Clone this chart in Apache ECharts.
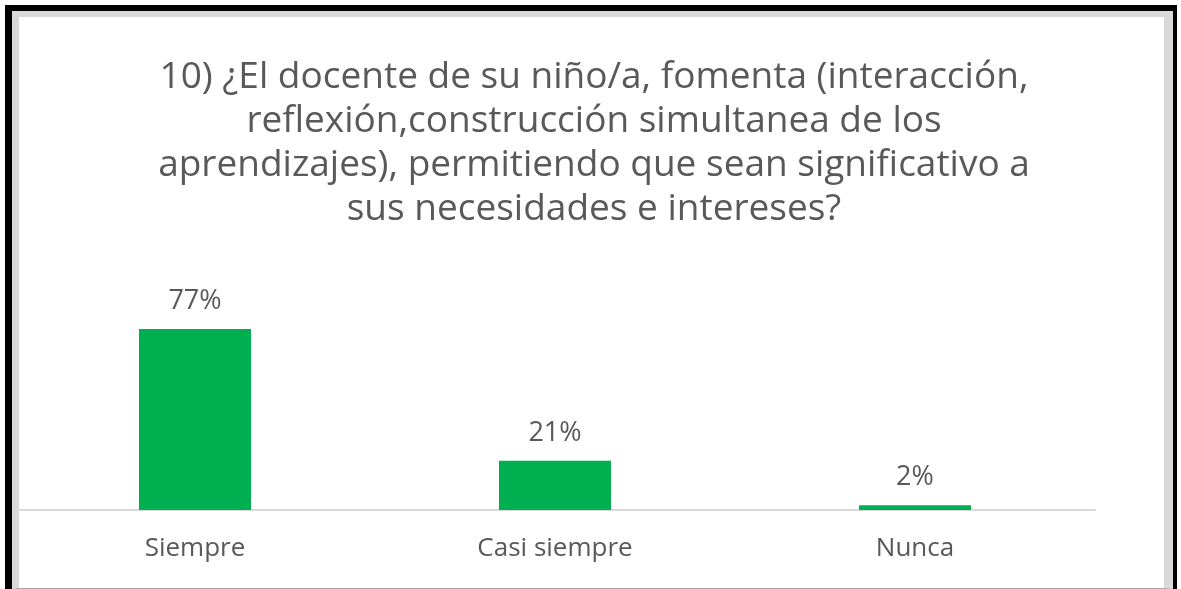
<!DOCTYPE html>
<html>
<head>
<meta charset="utf-8">
<script src="https://cdn.jsdelivr.net/npm/echarts@6/dist/echarts.min.js"></script>
<style>
  html, body { margin: 0; padding: 0; background: #fff; }
  #frame {
    position: absolute; left: 5px; top: 5px; width: 1172px; height: 584px;
    box-sizing: border-box; border: solid #000; border-width: 6px 4px 0 7px;
  }
  #inner {
    position: absolute; left: 0; top: 0; right: 0; bottom: 0;
    box-sizing: border-box; border: solid #d9d9d9; border-width: 6px 9px 1px 7px;
    border-bottom-color: #a6a6a6;
  }
  #chart { position: absolute; left: 0; top: 0; width: 1181px; height: 589px; }
</style>
</head>
<body>
<div id="frame"><div id="inner"></div></div>
<div id="chart"></div>
<script>
// survey answers, % of parents
const categories = ['Siempre', 'Casi siempre', 'Nunca'];
const percents = [77, 21, 2];
const titleLines = [
    '10) ¿El docente de su niño/a, fomenta (interacción,',
    'reflexión,construcción simultanea de los',
    'aprendizajes), permitiendo que sean significativo a',
    'sus necesidades e intereses?'
];

const textColor = '#595959';
const font = 'Open Sans';

let ec = echarts.init(document.getElementById('chart'), null, { renderer: 'canvas' });

let option = {
    animation: false,
    backgroundColor: 'transparent',
    title: {
        text: titleLines.join('\n'),
        left: 589,
        textAlign: 'center',
        top: 50,
        textStyle: {
            color: textColor,
            fontFamily: font,
            fontWeight: 'normal',
            fontSize: 37,
            lineHeight: 44
        }
    },
    grid: { left: 15, right: 86, top: 275, bottom: 79 },
    xAxis: {
        type: 'category',
        data: categories,
        axisLine: { lineStyle: { color: '#d9d9d9', width: 2 } },
        axisTick: { show: false },
        axisLabel: { color: textColor, fontFamily: font, fontSize: 26, margin: 26 }
    },
    yAxis: {
        type: 'value',
        min: 0,
        max: 100,
        show: false
    },
    series: [{
        type: 'bar',
        data: percents,
        barWidth: 112,
        itemStyle: { color: '#00b050' },
        label: {
            show: true,
            position: 'top',
            distance: 14,
            formatter: '{c}%',
            color: textColor,
            fontFamily: font,
            fontSize: 27
        }
    }]
};

ec.setOption(option);
</script>
</body>
</html>
